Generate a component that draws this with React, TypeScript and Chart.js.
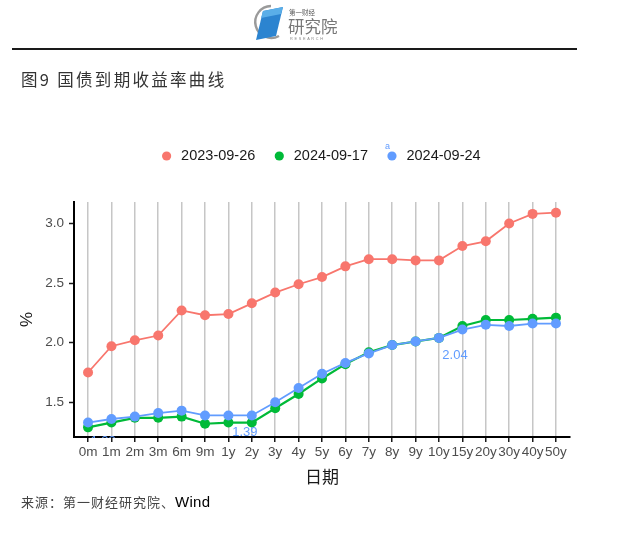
import React, { useEffect, useRef } from "react";
import { Chart, registerables } from "chart.js";

Chart.register(...registerables);

const categories = ["0m", "1m", "2m", "3m", "6m", "9m", "1y", "2y", "3y", "4y", "5y", "6y", "7y", "8y", "9y", "10y", "15y", "20y", "30y", "40y", "50y"];
const seriesNames = ["2023-09-26", "2024-09-17", "2024-09-24"];
const y20230926 = [1.75, 1.97, 2.02, 2.06, 2.27, 2.23, 2.24, 2.33, 2.42, 2.49, 2.55, 2.64, 2.70, 2.70, 2.69, 2.69, 2.81, 2.85, 3.00, 3.08, 3.09];
const y20240917 = [1.29, 1.33, 1.37, 1.37, 1.38, 1.32, 1.33, 1.33, 1.45, 1.57, 1.70, 1.82, 1.92, 1.98, 2.01, 2.04, 2.14, 2.19, 2.19, 2.20, 2.21];
const y20240924 = [1.33, 1.36, 1.38, 1.41, 1.43, 1.39, 1.39, 1.39, 1.50, 1.62, 1.74, 1.83, 1.91, 1.98, 2.01, 2.04, 2.11, 2.15, 2.14, 2.16, 2.16];
const yTicks = [1.5, 2.0, 2.5, 3.0];
const labelledPoints = [0, 7, 15];

const seriesColors = ["#F8766D", "#00BA38", "#619CFF"];
const FONT = '"Liberation Sans", Arial, "Noto Sans CJK SC", sans-serif';
const CJK = '"Noto Sans CJK SC", "Liberation Sans", sans-serif';

// offsets (px) of the repelled value labels from their points
const labelOffsets: Record<number, [number, number]> = { 0: [15, 19], 7: [-7, 17], 15: [16, 18] };

const pointLabelPlugin = {
  id: "pointLabels",
  afterDatasetsDraw(chart: any) {
    const { ctx, chartArea, scales } = chart;
    const xs = scales.x;
    const ys = scales.y;
    ctx.save();
    ctx.beginPath();
    ctx.rect(chartArea.left, chartArea.top, chartArea.right - chartArea.left, chartArea.bottom - chartArea.top + 1);
    ctx.clip();
    ctx.font = `13px ${FONT}`;
    ctx.fillStyle = seriesColors[2];
    ctx.textAlign = "center";
    ctx.textBaseline = "middle";
    labelledPoints.forEach((i) => {
      const v = y20240924[i];
      const [dx, dy] = labelOffsets[i];
      ctx.fillText(v.toFixed(2), xs.getPixelForValue(i) + dx, ys.getPixelForValue(v) + dy);
    });
    ctx.restore();
  },
};

export default function App() {
  const ref = useRef<HTMLCanvasElement | null>(null);

  useEffect(() => {
    if (!ref.current) return;
    const seriesData = [y20230926, y20240917, y20240924];
    const chart = new Chart(ref.current, {
      type: "line",
      data: {
        datasets: seriesData.map((arr, k) => ({
          label: seriesNames[k],
          data: arr.map((v, i) => ({ x: i, y: v })),
          borderColor: seriesColors[k],
          backgroundColor: seriesColors[k],
          pointBackgroundColor: seriesColors[k],
          pointBorderColor: seriesColors[k],
          pointRadius: 5,
          pointBorderWidth: 0,
          borderWidth: k === 1 ? 2.2 : 1.8,
          tension: 0,
          order: 3 - k,
          xAxisID: "x",
          yAxisID: "y",
        })),
      },
      options: {
        responsive: false,
        animation: false,
        events: [],
        layout: { padding: { top: 132, left: 0, right: 0, bottom: 0 } },
        plugins: {
          legend: {
            position: "top",
            labels: {
              usePointStyle: true,
              pointStyle: "circle",
              boxWidth: 14.5,
              boxHeight: 6.5,
              padding: 16.75,
              color: "#1a1a1a",
              font: { size: 14.5, family: FONT },
              sort: (a: any, b: any) => a.datasetIndex - b.datasetIndex,
            },
          },
          tooltip: { enabled: false },
        },
        scales: {
          x: {
            type: "linear",
            min: -0.6,
            max: 20.6,
            afterBuildTicks: (s: any) => {
              s.ticks = categories.map((_, i) => ({ value: i }));
            },
            afterFit: (s: any) => {
              s.height = 108;
            },
            ticks: {
              autoSkip: false,
              maxRotation: 0,
              minRotation: 0,
              padding: 2,
              color: "#4d4d4d",
              font: { size: 13.5, family: FONT },
              callback: (v: any) => categories[v] ?? "",
            },
            grid: {
              color: "#C6C6C6",
              lineWidth: 1.5,
              drawTicks: true,
              tickLength: 5,
              tickColor: "#1a1a1a",
              tickWidth: 1.5,
            },
            border: { display: true, color: "#000", width: 2 },
            title: {
              display: true,
              text: "日期",
              color: "#1a1a1a",
              font: { size: 17, family: CJK },
              padding: { top: 0, bottom: 58 },
            },
          },
          xTop: {
            type: "linear",
            position: "top",
            display: true,
            afterFit: (s: any) => {
              s.height = 28.7;
            },
            ticks: { display: false },
            grid: { display: false, drawTicks: false },
            border: { display: false },
          },
          y: {
            type: "linear",
            min: 1.209,
            max: 3.18,
            afterBuildTicks: (s: any) => {
              s.ticks = yTicks.map((v) => ({ value: v }));
            },
            afterFit: (s: any) => {
              s.width = 74;
            },
            ticks: {
              padding: 5,
              color: "#4d4d4d",
              font: { size: 13.5, family: FONT },
              callback: (v: any) => Number(v).toFixed(1),
            },
            grid: {
              color: "rgba(0,0,0,0)",
              tickColor: "#1a1a1a",
              tickLength: 5,
              tickWidth: 1.5,
            },
            border: { display: true, color: "#000", width: 2 },
            title: {
              display: true,
              text: "%",
              color: "#1a1a1a",
              font: { size: 17, family: FONT },
              padding: { top: 17, bottom: 0 },
            },
          },
          yRight: {
            type: "linear",
            position: "right",
            display: true,
            afterFit: (s: any) => {
              s.width = 70;
            },
            ticks: { display: false },
            grid: { display: false, drawTicks: false },
            border: { display: false },
          },
        },
      } as any,
      plugins: [pointLabelPlugin],
    });
    return () => chart.destroy();
  }, []);

  return (
    <div style={{ position: "absolute", left: 0, top: 0, width: 640, height: 545, background: "#fff", overflow: "hidden" }}>
      <canvas ref={ref} width={640} height={545} style={{ position: "absolute", left: 0, top: 0, width: 640, height: 545 }} />
      <svg width={100} height={46} style={{ position: "absolute", left: 248, top: 1 }} viewBox="0 0 100 46">
        <path d="M 23 5 A 16 16 0 1 0 31 35" fill="none" stroke="#9a9a9a" strokeWidth={2.4} />
        <polygon points="15,10 35,6 28,35 8,39" fill="#2c84d0" />
        <polygon points="15,10 35,6 33,13 13,17" fill="#5aaee8" />
        <text x={41} y={14} fontSize={6.5} fill="#555" fontFamily={CJK}>第一财经</text>
        <text x={40} y={32} fontSize={16.5} fill="#777" fontFamily={CJK}>研究院</text>
        <text x={42} y={39} fontSize={3.8} fill="#888" fontFamily={FONT} letterSpacing={1.7}>RESEARCH</text>
      </svg>
      <div style={{ position: "absolute", left: 12, top: 48, width: 565, height: 1.5, background: "#1a1a1a" }} />
      <div style={{ position: "absolute", left: 21, top: 70, fontFamily: CJK, fontSize: 16.5, lineHeight: "18px", letterSpacing: 2.3, color: "#333", whiteSpace: "nowrap" }}>
        图9 国债到期收益率曲线
      </div>
      <div style={{ position: "absolute", left: 385, top: 141, fontFamily: FONT, fontSize: 9, lineHeight: "10px", color: seriesColors[2] }}>a</div>
      <div style={{ position: "absolute", left: 21, top: 493, fontFamily: CJK, fontSize: 13, lineHeight: "18px", letterSpacing: 1, color: "#444", whiteSpace: "nowrap" }}>
        来源：第一财经研究院、<span style={{ fontFamily: FONT, fontSize: 15, letterSpacing: 0.3, color: "#000" }}>Wind</span>
      </div>
    </div>
  );
}
